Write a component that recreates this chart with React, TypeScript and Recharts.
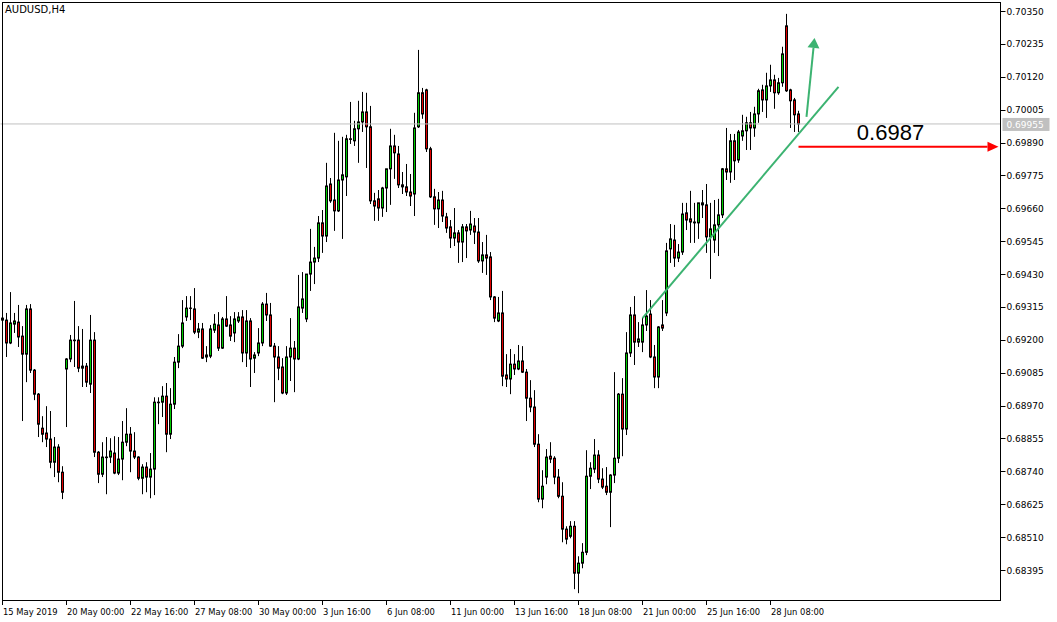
import React from 'react';
import {
  Bar,
  ComposedChart,
  ReferenceDot,
  ReferenceLine,
  XAxis,
  YAxis,
} from 'recharts';

// AUDUSD H4, 15 May 2019 08:00 .. 1 Jul 2019 12:00 (200 bars)
const opens = [
  0.69276, 0.69269, 0.69189, 0.69255, 0.69262, 0.69213, 0.6915, 0.69308, 0.69094, 0.6901,
  0.68891, 0.68874, 0.68853, 0.68772, 0.68825, 0.68737, 0.69098, 0.69133, 0.69199, 0.69199,
  0.69101, 0.69108, 0.69045, 0.69199, 0.68807, 0.6873, 0.6879, 0.6879, 0.68804, 0.68734,
  0.68783, 0.68842, 0.6887, 0.68811, 0.6879, 0.68716, 0.68755, 0.6872, 0.68748, 0.68982,
  0.68982, 0.69003, 0.6887, 0.68975, 0.69122, 0.69178, 0.6928, 0.69311, 0.69308, 0.69227,
  0.69238, 0.6914, 0.69143, 0.69234, 0.69252, 0.69171, 0.69273, 0.69252, 0.69224, 0.69266,
  0.6928, 0.69154, 0.69266, 0.69136, 0.69154, 0.69189, 0.69325, 0.69287, 0.69178, 0.6914,
  0.69105, 0.69014, 0.6914, 0.69171, 0.69133, 0.69311, 0.69273, 0.6943, 0.69472, 0.69486,
  0.69609, 0.69563, 0.69745, 0.69689, 0.69651, 0.69759, 0.6977, 0.69903, 0.69896, 0.69938,
  0.69962, 0.69997, 0.69945, 0.69686, 0.69693, 0.69661, 0.69731, 0.69798, 0.69878, 0.6985,
  0.69742, 0.69735, 0.69717, 0.6971, 0.69945, 0.70064, 0.70074, 0.69868, 0.697, 0.69658,
  0.69689, 0.6963, 0.69595, 0.69556, 0.69574, 0.69542, 0.69595, 0.69584, 0.69598, 0.69577,
  0.69476, 0.69497, 0.6949, 0.6935, 0.69266, 0.69294, 0.69077, 0.69063, 0.69115, 0.69098,
  0.69126, 0.69087, 0.68996, 0.68965, 0.68835, 0.68643, 0.6872, 0.68793, 0.68786, 0.6872,
  0.68653, 0.68538, 0.68513, 0.68548, 0.68384, 0.68419, 0.68457, 0.68723, 0.68748, 0.68797,
  0.68713, 0.68688, 0.68667, 0.68727, 0.68786, 0.6901, 0.68888, 0.69154, 0.69287, 0.69192,
  0.69192, 0.69252, 0.6929, 0.6914, 0.6907, 0.69252, 0.69294, 0.69518, 0.69549, 0.69486,
  0.69507, 0.69644, 0.69623, 0.69612, 0.69609, 0.69679, 0.69672, 0.6956, 0.69549, 0.69602,
  0.69637, 0.69798, 0.69787, 0.69896, 0.69829, 0.69913, 0.69931, 0.69959, 0.69941, 0.6999,
  0.70074, 0.70039, 0.70088, 0.70109, 0.70064, 0.70099, 0.70298, 0.70074, 0.70039, 0.6999,
];
const highs = [
  0.69287, 0.69294, 0.69367, 0.69294, 0.69322, 0.69248, 0.69322, 0.69325, 0.69098, 0.69014,
  0.68933, 0.68968, 0.68951, 0.6886, 0.68835, 0.68758, 0.69136, 0.69217, 0.69336, 0.69248,
  0.69238, 0.69119, 0.69287, 0.69227, 0.68811, 0.68842, 0.6886, 0.68856, 0.68863, 0.6886,
  0.68916, 0.68961, 0.68895, 0.68877, 0.68793, 0.68765, 0.68772, 0.68804, 0.68999, 0.68999,
  0.69038, 0.69049, 0.69031, 0.6914, 0.6922, 0.69339, 0.69353, 0.69353, 0.69381, 0.69259,
  0.69259, 0.69178, 0.69252, 0.6929, 0.69297, 0.6928, 0.69353, 0.69283, 0.69297, 0.69297,
  0.69304, 0.69304, 0.69276, 0.69157, 0.69241, 0.69332, 0.69364, 0.69329, 0.69189, 0.69178,
  0.69136, 0.69178, 0.69276, 0.69196, 0.69427, 0.69437, 0.6943, 0.69588, 0.69525, 0.69633,
  0.69654, 0.69819, 0.69766, 0.69924, 0.69896, 0.6991, 0.69917, 0.70032, 0.69966, 0.70036,
  0.70067, 0.70064, 0.70018, 0.69714, 0.69724, 0.69735, 0.69798, 0.69938, 0.69917, 0.69878,
  0.69787, 0.69815, 0.6978, 0.69994, 0.70214, 0.70081, 0.70078, 0.69875, 0.69728, 0.69717,
  0.69721, 0.69644, 0.69619, 0.69661, 0.69584, 0.69605, 0.69605, 0.69651, 0.69626, 0.69626,
  0.69542, 0.69567, 0.69507, 0.69353, 0.6935, 0.69371, 0.6915, 0.69168, 0.6915, 0.69182,
  0.69178, 0.69098, 0.69059, 0.69024, 0.6887, 0.68744, 0.68818, 0.68842, 0.68793, 0.68748,
  0.68702, 0.68548, 0.68566, 0.68566, 0.68443, 0.68489, 0.68814, 0.68772, 0.68853, 0.68814,
  0.68751, 0.68755, 0.6873, 0.69087, 0.69014, 0.69066, 0.69227, 0.69315, 0.69353, 0.69262,
  0.69276, 0.69374, 0.69339, 0.69182, 0.69248, 0.69339, 0.69539, 0.69605, 0.69602, 0.69535,
  0.69679, 0.69679, 0.69721, 0.69679, 0.69679, 0.69724, 0.69745, 0.69679, 0.69689, 0.69693,
  0.69801, 0.69941, 0.6992, 0.6992, 0.69934, 0.69987, 0.6998, 0.69997, 0.70015, 0.70078,
  0.70092, 0.70134, 0.70162, 0.70127, 0.70116, 0.70225, 0.7034, 0.70078, 0.70046, 0.70001,
];
const lows = [
  0.69259, 0.6914, 0.69185, 0.69224, 0.69175, 0.68916, 0.69052, 0.69084, 0.68989, 0.6886,
  0.68842, 0.68825, 0.68751, 0.6872, 0.68702, 0.68643, 0.68895, 0.69122, 0.69105, 0.69087,
  0.69035, 0.69035, 0.69014, 0.6879, 0.68699, 0.6872, 0.6866, 0.68769, 0.6873, 0.68727,
  0.68709, 0.68828, 0.68737, 0.68783, 0.68709, 0.6866, 0.68667, 0.68646, 0.68657, 0.68905,
  0.6893, 0.68807, 0.68853, 0.68958, 0.69101, 0.69171, 0.69266, 0.69269, 0.6922, 0.69206,
  0.69133, 0.69122, 0.69136, 0.69224, 0.69161, 0.69168, 0.69245, 0.69196, 0.69192, 0.69259,
  0.69122, 0.69105, 0.69035, 0.69084, 0.69143, 0.69178, 0.69266, 0.69175, 0.68982, 0.69059,
  0.6901, 0.69007, 0.69056, 0.69017, 0.69129, 0.69294, 0.69262, 0.69371, 0.69395, 0.69472,
  0.69504, 0.69542, 0.69679, 0.69581, 0.69647, 0.69553, 0.69703, 0.69885, 0.69878, 0.69819,
  0.69927, 0.69801, 0.69675, 0.69616, 0.69616, 0.6963, 0.69647, 0.69672, 0.69763, 0.69731,
  0.6971, 0.69703, 0.69668, 0.69633, 0.69941, 0.69973, 0.69857, 0.69696, 0.69602, 0.69591,
  0.69612, 0.69574, 0.69521, 0.69528, 0.69469, 0.69472, 0.69486, 0.69567, 0.69535, 0.69469,
  0.69434, 0.69427, 0.69339, 0.69262, 0.69262, 0.69038, 0.69035, 0.6901, 0.69077, 0.69094,
  0.69084, 0.68916, 0.68947, 0.68825, 0.68632, 0.68611, 0.68695, 0.68769, 0.68695, 0.68646,
  0.68492, 0.68485, 0.68506, 0.68328, 0.68314, 0.68401, 0.68447, 0.68678, 0.68734, 0.68699,
  0.68678, 0.68657, 0.68545, 0.68699, 0.68769, 0.68793, 0.68867, 0.6914, 0.69112, 0.69175,
  0.69157, 0.69231, 0.69136, 0.69031, 0.69031, 0.69231, 0.69283, 0.69469, 0.69455, 0.69472,
  0.69497, 0.69584, 0.69539, 0.69539, 0.69553, 0.69626, 0.69504, 0.69413, 0.69504, 0.69493,
  0.69626, 0.69759, 0.69749, 0.69759, 0.69819, 0.69896, 0.69864, 0.69864, 0.6991, 0.69959,
  0.69997, 0.69976, 0.70067, 0.70008, 0.70057, 0.70085, 0.70067, 0.69941, 0.69927, 0.69927,
];
const closes = [
  0.69269, 0.69189, 0.69259, 0.69266, 0.6921, 0.6915, 0.69308, 0.69094, 0.6901, 0.68905,
  0.6887, 0.68853, 0.68772, 0.68825, 0.68737, 0.68667, 0.69133, 0.69199, 0.69197, 0.69101,
  0.69108, 0.69052, 0.69199, 0.68807, 0.6873, 0.6879, 0.68788, 0.68811, 0.68734, 0.68783,
  0.68842, 0.6887, 0.68811, 0.6879, 0.68716, 0.68755, 0.6872, 0.68748, 0.68982, 0.6898,
  0.69003, 0.6887, 0.68975, 0.69122, 0.69178, 0.69259, 0.69311, 0.6931, 0.69227, 0.69238,
  0.69136, 0.69147, 0.69238, 0.69255, 0.69171, 0.69273, 0.69248, 0.69213, 0.69273, 0.6928,
  0.69154, 0.69266, 0.69133, 0.69147, 0.69189, 0.69325, 0.69287, 0.69178, 0.6914, 0.69101,
  0.69014, 0.6914, 0.69171, 0.69133, 0.69315, 0.69343, 0.6943, 0.69472, 0.69486, 0.69609,
  0.69563, 0.69738, 0.69686, 0.69651, 0.69759, 0.69777, 0.69903, 0.69901, 0.69938, 0.69962,
  0.69997, 0.69945, 0.69686, 0.69668, 0.69661, 0.69731, 0.69798, 0.69878, 0.69854, 0.69742,
  0.69735, 0.69717, 0.69703, 0.69941, 0.70064, 0.6999, 0.69868, 0.697, 0.69658, 0.69689,
  0.69633, 0.69591, 0.69556, 0.69574, 0.69542, 0.69595, 0.69581, 0.69605, 0.69577, 0.69476,
  0.69497, 0.69486, 0.6935, 0.69276, 0.69294, 0.69073, 0.69063, 0.69115, 0.69098, 0.69126,
  0.69087, 0.68996, 0.68965, 0.68835, 0.68643, 0.68688, 0.6879, 0.68783, 0.6872, 0.68653,
  0.68538, 0.68503, 0.68548, 0.68384, 0.68419, 0.68457, 0.68723, 0.68751, 0.68797, 0.68713,
  0.68685, 0.68667, 0.68727, 0.68786, 0.6901, 0.68888, 0.69154, 0.69287, 0.69192, 0.69203,
  0.69252, 0.69283, 0.6914, 0.6907, 0.69245, 0.69241, 0.69511, 0.69553, 0.69486, 0.69507,
  0.6964, 0.69619, 0.69612, 0.69609, 0.69679, 0.69672, 0.6956, 0.69588, 0.69602, 0.69637,
  0.69798, 0.69787, 0.69896, 0.69826, 0.69927, 0.69931, 0.69959, 0.69941, 0.6999, 0.70071,
  0.70039, 0.70088, 0.70109, 0.70064, 0.70099, 0.702, 0.70071, 0.70036, 0.69987, 0.69955,
];

// one label every 16 bars
const xTickLabels = [
  '15 May 2019', '20 May 00:00', '22 May 16:00', '27 May 08:00', '30 May 00:00',
  '3 Jun 16:00', '6 Jun 08:00', '11 Jun 00:00', '13 Jun 16:00', '18 Jun 08:00',
  '21 Jun 00:00', '25 Jun 16:00', '28 Jun 08:00',
];
const yTicks = [
  0.7035, 0.70235, 0.7012, 0.70005, 0.6989, 0.69775, 0.6966, 0.69545, 0.6943,
  0.69315, 0.692, 0.69085, 0.6897, 0.68855, 0.6874, 0.68625, 0.6851, 0.68395,
];

const TOTAL_SLOTS = 250; // bars + empty shift on the right
const bidPrice = closes[closes.length - 1];
const targetLevel = 0.69875;

const data = Array.from({ length: TOTAL_SLOTS }, (_, i) =>
  i < opens.length
    ? { i, o: opens[i], h: highs[i], l: lows[i], c: closes[i], range: [lows[i], highs[i]] }
    : { i, range: null }
);

const FONT = '"DejaVu Sans", Tahoma, sans-serif';
const BULL = '#00cc00';
const BEAR = '#e00000';
const ARROW_GREEN = '#3cb371';

const Candle = (props: any) => {
  const { x, width, y, height, payload } = props;
  if (!payload || payload.o == null) return <g />;
  const { o, h, l, c } = payload;
  const top = Math.min(y, y + height);
  const hh = Math.abs(height);
  const cx = Math.floor(x + width / 2) + 0.5;
  const k = h - l > 0 ? hh / (h - l) : 0;
  const py = (v: number) => top + (h - v) * k;
  const bTop = py(Math.max(o, c));
  const bBot = py(Math.min(o, c));
  return (
    <g>
      <line x1={cx} x2={cx} y1={top} y2={top + hh} stroke='#000' strokeWidth={1} />
      <rect
        x={cx - 1}
        y={bTop}
        width={2}
        height={Math.max(bBot - bTop, 0.01)}
        fill={c >= o ? BULL : BEAR}
        stroke='#000'
        strokeWidth={1}
      />
    </g>
  );
};

const XTick = ({ x, y, payload }: any) => {
  const i = payload.value;
  if (i % 16 !== 0 || i >= opens.length) return <g />;
  return (
    <g>
      <line x1={x} x2={x} y1={y} y2={y + 5} stroke='#000' />
      <text x={x + 0.5} y={y + 15} fontSize={8.4} fontFamily={FONT} fill='#000'>
        {xTickLabels[i / 16]}
      </text>
    </g>
  );
};

const YTick = ({ x, y, payload }: any) => {
  const ly = Math.round(y) + 0.5;
  return (
    <g>
      <line x1={x} x2={x + 5} y1={ly} y2={ly} stroke='#000' />
      <text x={x + 6} y={y + 3.5} fontSize={9} fontFamily={FONT} fill='#000'>
        {Number(payload.value).toFixed(5)}
      </text>
    </g>
  );
};

const BidTag = (props: any) => {
  const vb = props.viewBox || {};
  const x = vb.x + vb.width + 2;
  const y = vb.y;
  return (
    <g>
      <rect x={x} y={y - 6} width={47} height={13} fill='#c0c0c0' />
      <text x={x + 4} y={y + 4} fontSize={9} fontFamily={FONT} fill='#fff'>
        {bidPrice.toFixed(5)}
      </text>
    </g>
  );
};

// line with a filled head at its end point
const arrow = (color: string, headLen: number, headHalf: number, width: number) => (p: any) => {
  const { x1, y1, x2, y2 } = p;
  const dx = x2 - x1;
  const dy = y2 - y1;
  const len = Math.hypot(dx, dy) || 1;
  const ux = dx / len;
  const uy = dy / len;
  const bx = x2 - ux * headLen;
  const by = y2 - uy * headLen;
  const nx = -uy * headHalf;
  const ny = ux * headHalf;
  return (
    <g>
      <line x1={x1} y1={y1} x2={bx} y2={by} stroke={color} strokeWidth={width} />
      <polygon
        points={`${x2},${y2} ${bx + nx},${by + ny} ${bx - nx},${by - ny}`}
        fill={color}
      />
    </g>
  );
};

const LevelText = (p: any) => (
  <text
    x={p.cx}
    y={p.cy + 8}
    textAnchor='middle'
    fontSize={22}
    fontFamily='"Liberation Sans", Arial, sans-serif'
    fill='#000'
  >
    {targetLevel.toFixed(4)}
  </text>
);

const App: React.FC = () => {
  return (
    <div style={{ position: 'absolute', left: 0, top: 0, width: 1057, height: 622, background: '#fff' }}>
      <ComposedChart
        width={1057}
        height={622}
        data={data}
        margin={{ top: 2, right: 0, left: 0.5, bottom: 0 }}
      >
        <XAxis
          dataKey='i'
          type='category'
          interval={0}
          height={22}
          axisLine={false}
          tickLine={false}
          tickSize={0}
          tickMargin={0}
          tick={<XTick />}
        />
        <YAxis
          orientation='right'
          type='number'
          width={56.5}
          domain={[0.682901, 0.703815]}
          allowDataOverflow
          ticks={yTicks}
          interval={0}
          axisLine={false}
          tickLine={false}
          tickSize={0}
          tickMargin={0}
          tick={<YTick />}
        />
        <ReferenceLine y={bidPrice} stroke='#c0c0c0' strokeWidth={1} label={<BidTag />} />
        <Bar dataKey='range' shape={<Candle />} isAnimationActive={false} />
        <ReferenceLine
          segment={[{ x: 160, y: 0.69276 }, { x: 209, y: 0.70085 }]}
          stroke={ARROW_GREEN}
          strokeWidth={2}
        />
        <ReferenceLine
          segment={[{ x: 201, y: 0.6998 }, { x: 203, y: 0.70256 }]}
          shape={arrow(ARROW_GREEN, 10, 6, 2)}
        />
        <ReferenceLine
          segment={[{ x: 199, y: targetLevel }, { x: 249, y: targetLevel }]}
          shape={arrow('#ff0000', 11, 5, 2)}
        />
        <ReferenceDot x={222} y={0.69927} r={0} shape={LevelText} />
      </ComposedChart>
      <div
        style={{
          position: 'absolute',
          left: 2,
          top: 2,
          width: 999,
          height: 599,
          boxSizing: 'border-box',
          border: '1px solid #000',
          pointerEvents: 'none',
        }}
      />
      <div
        style={{
          position: 'absolute',
          left: 5,
          top: 4,
          fontFamily: FONT,
          fontSize: 10,
          color: '#000',
        }}
      >
        AUDUSD,H4
      </div>
    </div>
  );
};

export default App;
